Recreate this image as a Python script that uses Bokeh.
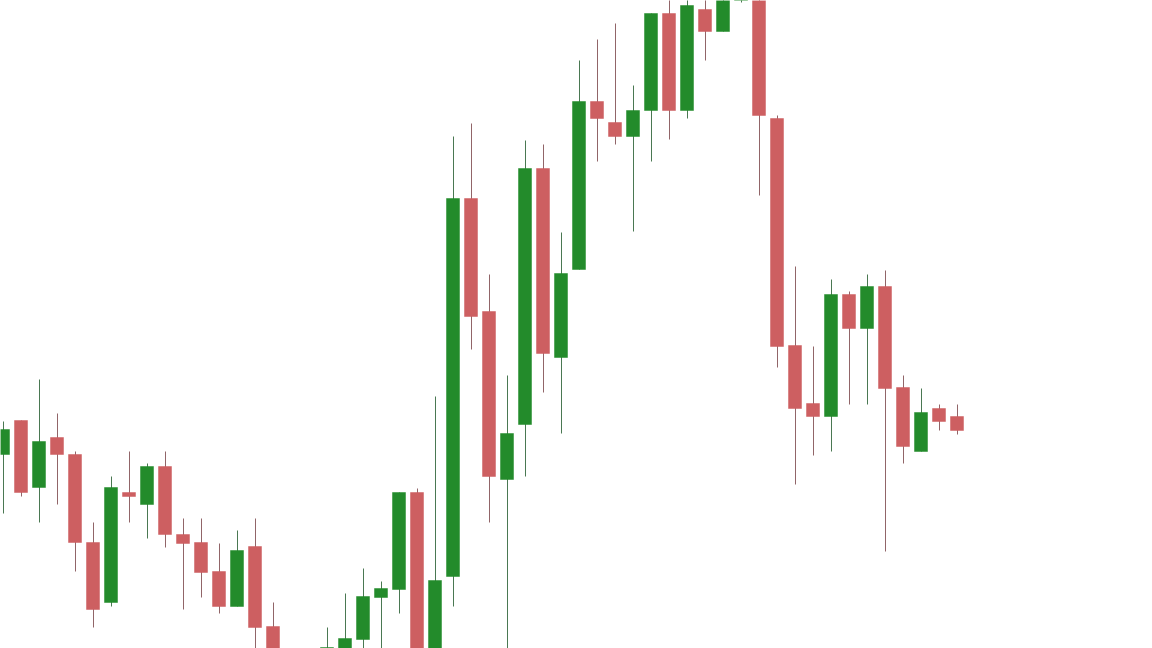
from bokeh.plotting import figure
from bokeh.models import ColumnDataSource, Range1d
from bokeh.embed import file_html
from bokeh.resources import INLINE

# OHLC values
opens = [546, 580, 513, 563, 546, 458, 398, 508, 496, 534, 466, 458, 429, 394, 454, 374,
         332, 300, 332, 335, 361, 403, 411, 508, 312, 424, 802, 689, 521, 576, 832, 643,
         731, 899, 878, 864, 890, 987, 890, 991, 969, 1030, 1055, 882, 655, 597, 584, 706,
         672, 714, 613, 549, 592, 584]
highs = [579, 580, 621, 587, 549, 478, 524, 549, 537, 549, 482, 482, 457, 470, 482, 398,
         345, 340, 373, 407, 432, 419, 508, 512, 604, 864, 877, 726, 625, 860, 856, 768,
         940, 961, 977, 915, 987, 1005, 1008, 1010, 1040, 1070, 1060, 885, 734, 654, 721, 709,
         726, 730, 625, 612, 596, 596]
lows = [487, 504, 478, 496, 429, 373, 394, 478, 462, 453, 391, 403, 387, 394, 340, 310,
        288, 285, 320, 328, 345, 340, 387, 300, 305, 394, 651, 478, 335, 524, 608, 567,
        731, 839, 856, 769, 839, 861, 882, 940, 969, 998, 805, 633, 516, 545, 549, 596,
        596, 449, 537, 549, 570, 566]
closes = [571, 508, 559, 546, 458, 391, 513, 504, 534, 466, 457, 428, 394, 450, 373, 330,
          300, 328, 353, 362, 404, 412, 508, 310, 420, 802, 684, 524, 567, 832, 647, 727,
          899, 882, 864, 890, 987, 890, 995, 969, 1025, 1060, 885, 654, 592, 584, 706, 672,
          714, 612, 554, 588, 579, 570]

UP = "#238b2b"
DOWN = "#cd5f61"
UP_WICK = "#4a7852"
DOWN_WICK = "#916568"

step = 18.0
idx = list(range(len(opens)))
up = [c >= o for o, c in zip(opens, closes)]
src = ColumnDataSource(dict(
    x=idx,
    wx=[i + 0.5 / step for i in idx],
    top=[max(o, c) for o, c in zip(opens, closes)],
    bottom=[min(o, c) for o, c in zip(opens, closes)],
    high=highs,
    low=lows,
    color=[UP if u else DOWN for u in up],
    wick=[UP_WICK if u else DOWN_WICK for u in up],
))

use_template = True
try:
    from bokeh.core.templates import get_env
    template = get_env().from_string(
        '{% extends "file.html" %}'
        '{% block preamble %}<style>html,body{margin:0;padding:0;overflow:hidden;background:#ffffff}</style>{% endblock %}'
    )
except Exception:
    use_template = False

W, H = (1152, 648) if use_template else (1136, 632)
off = 0 if use_template else 8

x0 = 2.5 - off
p = figure(width=W, height=H, output_backend="svg", toolbar_location=None,
           x_range=Range1d(-x0 / step, -x0 / step + W / step),
           y_range=Range1d(1000 - off - H, 1000 - off),
           min_border=0, background_fill_color="white", border_fill_color="white")
p.axis.visible = False
p.xgrid.visible = False
p.ygrid.visible = False
p.outline_line_color = None

p.segment(x0="wx", y0="high", x1="wx", y1="low", source=src, line_color="wick", line_width=1)
p.vbar(x="x", top="top", bottom="bottom", width=13 / step, source=src,
       fill_color="color", line_color="color", line_width=0.5)

if use_template:
    html = file_html(p, INLINE, template=template)
else:
    html = file_html(p, INLINE)
open("out.html", "w").write(html)
